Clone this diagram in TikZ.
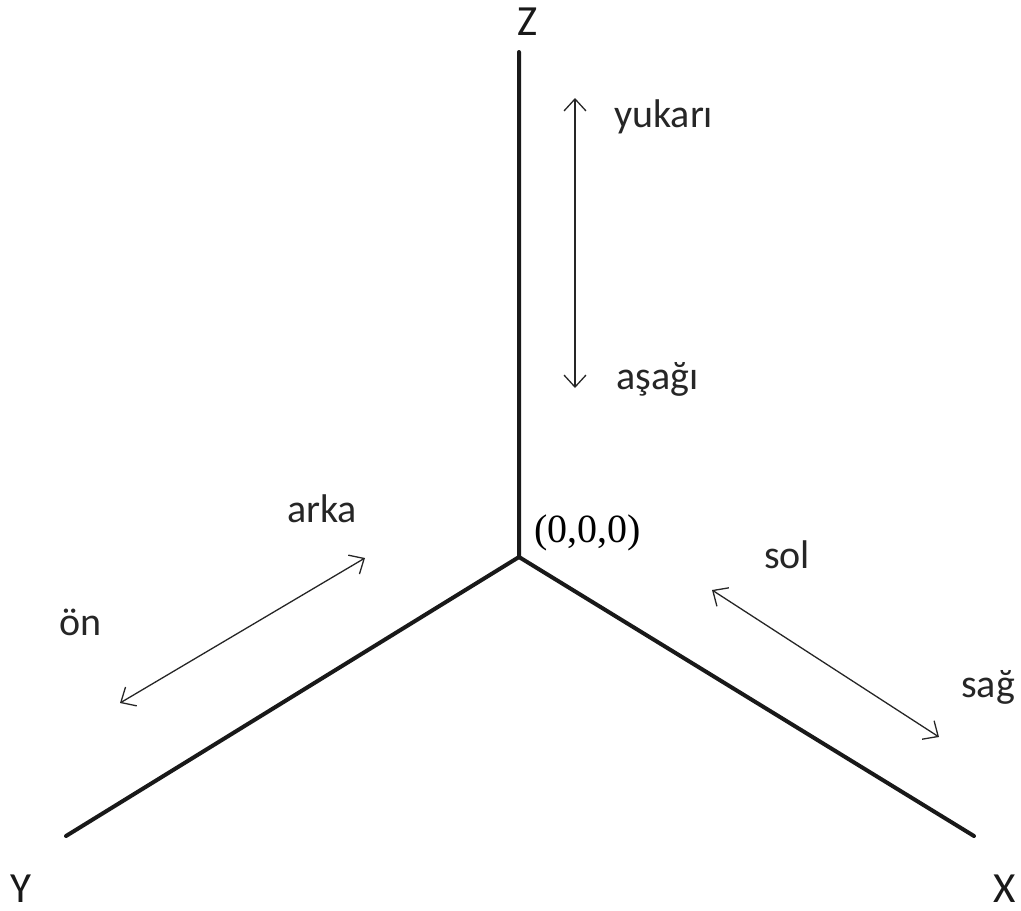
\documentclass[tikz,border=0pt]{standalone}
\usepackage{fontspec}
\setmainfont{Carlito}
\newfontfamily\timesfont{Liberation Serif}
\usetikzlibrary{arrows.meta}
\begin{document}
\begin{tikzpicture}[x=1pt,y=-1pt,
  axis/.style={line width=4pt,line cap=round,black!90},
  dirarrow/.style={line width=1.3pt,black!85,{Straight Barb[length=12pt,width=22pt,line width=1.3pt]}-{Straight Barb[length=12pt,width=22pt,line width=1.3pt]}},
  lbl/.style={anchor=base west,inner sep=0pt,font=\fontsize{40}{48}\selectfont,text=black!85},
  axlbl/.style={anchor=base,inner sep=0pt,font=\fontsize{43}{50}\selectfont,text=black!90}]
\useasboundingbox (0,0) rectangle (1021,911);
% axes
\coordinate (O) at (519,557);
\coordinate (Ztop) at (519,52);
\coordinate (Yend) at (66,836);
\coordinate (Xend) at (974,836);
\draw[axis] (Ztop) -- (O) -- (Yend);
\draw[axis] (O) -- (Xend);
% axis names
\node[axlbl] (zl) at (528,35) {Z};
\node[axlbl] (yl) at (21,902) {Y};
\node[axlbl] (xl) at (1005,902) {X};
\node[anchor=base west,inner sep=0pt,font=\timesfont\fontsize{40}{48}\selectfont] (orig) at (534,542) {(0,0,0)};
% direction arrows
\coordinate (up) at (575,98);
\coordinate (down) at (575,388);
\coordinate (back) at (365,558);
\coordinate (front) at (120,703);
\coordinate (left) at (712,590);
\coordinate (right) at (939,737);
\draw[dirarrow] (up) -- (down);
\draw[dirarrow] (back) -- (front);
\draw[dirarrow] (left) -- (right);
% direction names
\node[lbl] (yukari) at (614,127) {yukarı};
\node[lbl] (asagi) at (616,389) {aşağı};
\node[lbl] (arka) at (287,522) {arka};
\node[lbl] (on) at (59,635) {ön};
\node[lbl] (sol) at (764,568) {sol};
\node[lbl] (sag) at (961,697) {sağ};
\end{tikzpicture}
\end{document}
